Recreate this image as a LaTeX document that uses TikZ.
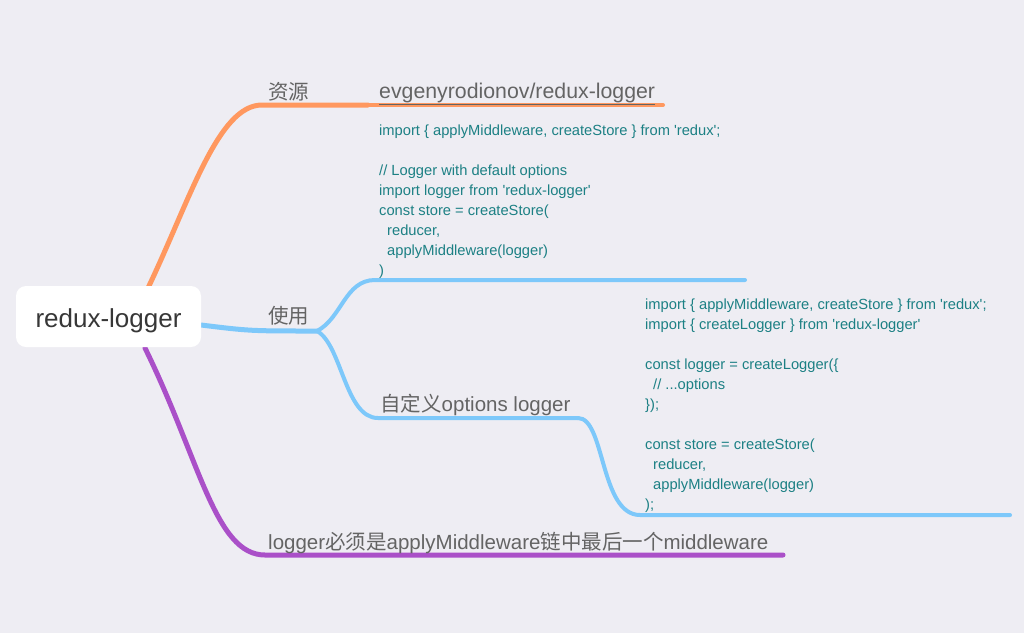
\documentclass[tikz,border=0pt]{standalone}
\usepackage{fontspec}
\setmainfont{Liberation Sans}
\newfontfamily\cjk{Noto Sans CJK SC}
\definecolor{bg}{RGB}{238,237,243}
\definecolor{rootgray}{RGB}{55,55,55}
\definecolor{labelgray}{RGB}{100,100,100}
\definecolor{codeteal}{RGB}{28,128,132}
\definecolor{orangeline}{RGB}{255,152,95}
\definecolor{blueline}{RGB}{125,200,250}
\definecolor{purpleline}{RGB}{170,80,200}
\newcommand\sqt{\textquotesingle}
\begin{document}
\begin{tikzpicture}[x=1pt, y=-1pt, line cap=round,
branch/.style={line width=5pt},
sub branch/.style={line width=4pt},
root node/.style={fill=white, rounded corners=10pt, minimum width=185pt, minimum height=61pt, text height=24pt, text depth=3pt, text=rootgray, font=\fontsize{26}{30}\selectfont},
label node/.style={anchor=base west, inner sep=0pt, text=labelgray, font=\fontsize{20.5}{24}\selectfont},
code node/.style={anchor=north west, inner sep=0pt, align=left, text=codeteal, font=\fontsize{14.7}{20}\selectfont}]
\fill[bg] (0,0) rectangle (1024,633);
\useasboundingbox (0,0) rectangle (1024,633);
\begin{scope}
\coordinate (o0) at (148,288);
\coordinate (o1) at (368,105);
\coordinate (o2) at (663,105);
\coordinate (b0) at (201,325);
\coordinate (b1) at (317,331);
\coordinate (b2) at (375,280);
\coordinate (b3) at (745,280);
\coordinate (b4) at (378,418);
\coordinate (b5) at (578,418);
\coordinate (b6) at (640,515);
\coordinate (b7) at (1010,515);
\coordinate (p0) at (145,348);
\coordinate (p1) at (783,555);
\draw[branch, orangeline] (o0) .. controls (190,200) and (218,105) .. (262,105) -- (o1);
\draw[sub branch, orangeline] (o1) -- (o2);
\draw[branch, blueline] (b0) .. controls (250,331) .. (b1);
\draw[sub branch, blueline] (b1) .. controls (342,318) and (345,280) .. (b2) -- (b3);
\draw[sub branch, blueline] (b1) .. controls (342,345) and (345,418) .. (b4) -- (b5);
\draw[sub branch, blueline] (b5) .. controls (605,418) and (600,515) .. (b6) -- (b7);
\draw[branch, purpleline] (p0) .. controls (200,460) and (215,555) .. (265,555) -- (p1);
\end{scope}
\begin{scope}
\node[root node] (root) at (108.5,316.5) {redux-logger};
\node[label node] (res) at (268,99) {\cjk 资源};
\node[label node, font=\fontsize{21.3}{24}\selectfont] (link) at (379,98) {\underline{evgenyrodionov/redux-logger}};
\node[code node] (code1) at (379,121) {\strut import \{ applyMiddleware, createStore \} from \sqt redux\sqt;\\[20pt]
// Logger with default options\\
import logger from \sqt redux-logger\sqt\\
const store = createStore(\\
\hspace*{8pt}reducer,\\
\hspace*{8pt}applyMiddleware(logger)\\
)};
\node[label node] (use) at (268,323) {\cjk 使用};
\node[label node] (custom) at (380,411) {{\cjk 自定义}options logger};
\node[code node] (code2) at (645,295) {\strut import \{ applyMiddleware, createStore \} from \sqt redux\sqt;\\
import \{ createLogger \} from \sqt redux-logger\sqt\\[20pt]
const logger = createLogger(\{\\
\hspace*{8pt}// ...options\\
\});\\[20pt]
const store = createStore(\\
\hspace*{8pt}reducer,\\
\hspace*{8pt}applyMiddleware(logger)\\
);};
\node[label node] (last) at (268,549) {logger{\cjk 必须是}applyMiddleware{\cjk 链中最后一个}middleware};
\end{scope}
\end{tikzpicture}
\end{document}
